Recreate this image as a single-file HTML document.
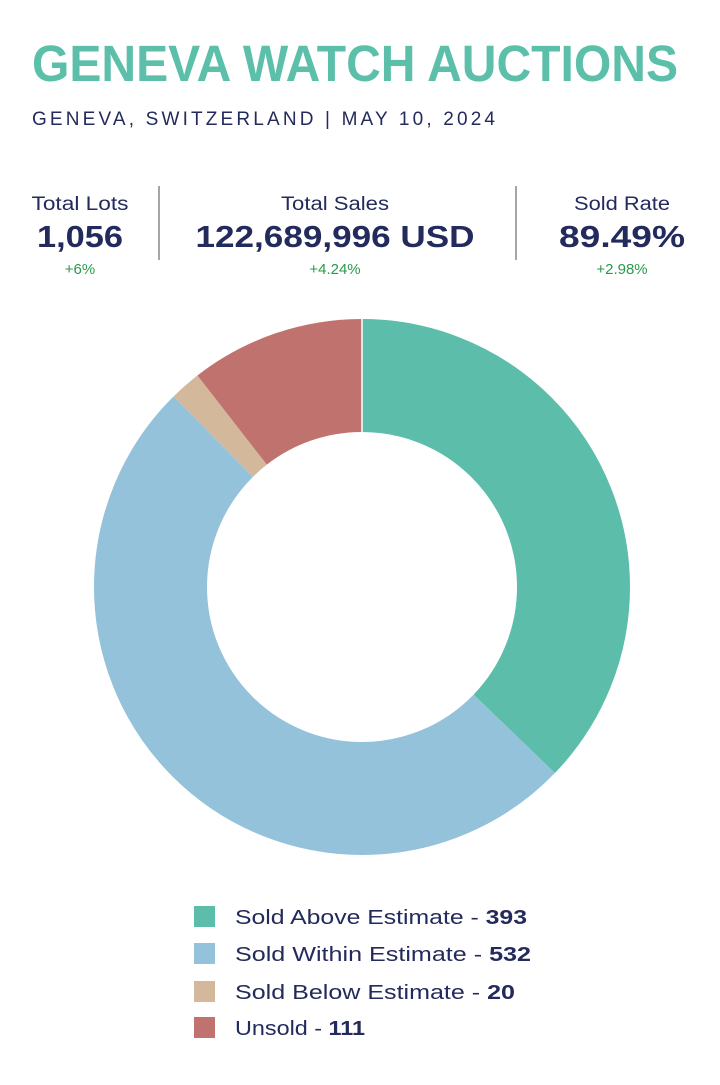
<!DOCTYPE html>
<html><head><meta charset="utf-8"><style>
html,body{margin:0;padding:0;background:#fff;}
svg{display:block;}
text{font-family:"Liberation Sans",sans-serif;}
</style></head><body>
<svg width="720" height="1085" viewBox="0 0 720 1085" xmlns="http://www.w3.org/2000/svg">
<rect width="720" height="1085" fill="#fff"/>
<text x="32" y="81" font-size="51" font-weight="bold" fill="#5bbfaa" textLength="646" lengthAdjust="spacingAndGlyphs">GENEVA WATCH AUCTIONS</text>
<text x="32" y="125" font-size="19" fill="#232a5c" textLength="463" lengthAdjust="spacing">GENEVA, SWITZERLAND  |  MAY 10, 2024</text>

<g fill="#232a5c" text-anchor="middle">
<text x="80" y="210" font-size="19" textLength="97" lengthAdjust="spacingAndGlyphs">Total Lots</text>
<text x="80" y="247" font-size="31" font-weight="bold" textLength="86" lengthAdjust="spacingAndGlyphs">1,056</text>
<text x="335" y="210" font-size="19" textLength="108" lengthAdjust="spacingAndGlyphs">Total Sales</text>
<text x="335" y="247" font-size="31" font-weight="bold" textLength="279" lengthAdjust="spacingAndGlyphs">122,689,996 USD</text>
<text x="622" y="210" font-size="19" textLength="96" lengthAdjust="spacingAndGlyphs">Sold Rate</text>
<text x="622" y="247" font-size="31" font-weight="bold" textLength="126" lengthAdjust="spacingAndGlyphs">89.49%</text>
</g>
<g fill="#2a9a4a" text-anchor="middle" font-size="15">
<text x="80" y="274">+6%</text>
<text x="335" y="274">+4.24%</text>
<text x="622" y="274">+2.98%</text>
</g>
<line x1="159" y1="186" x2="159" y2="260" stroke="#888" stroke-width="1.5"/>
<line x1="516" y1="186" x2="516" y2="260" stroke="#888" stroke-width="1.5"/>

<g transform="rotate(-90 362 587)" fill="none" stroke-width="113">
<circle cx="362" cy="587" r="211.5" pathLength="1056" stroke="#5bbdaa" stroke-dasharray="393 1056" stroke-dashoffset="0"/>
<circle cx="362" cy="587" r="211.5" pathLength="1056" stroke="#93c2da" stroke-dasharray="532 1056" stroke-dashoffset="-393"/>
<circle cx="362" cy="587" r="211.5" pathLength="1056" stroke="#d4b89c" stroke-dasharray="20 1056" stroke-dashoffset="-925"/>
<circle cx="362" cy="587" r="211.5" pathLength="1056" stroke="#c0736e" stroke-dasharray="111 1056" stroke-dashoffset="-945"/>
</g>
<line x1="362" y1="319" x2="362" y2="432" stroke="#fff" stroke-width="1.5"/>

<rect x="194" y="906" width="21" height="21" fill="#5bbdaa"/>
<rect x="194" y="943" width="21" height="21" fill="#93c2da"/>
<rect x="194" y="981" width="21" height="21" fill="#d4b89c"/>
<rect x="194" y="1017" width="21" height="21" fill="#c0736e"/>
<g fill="#232a5c" font-size="20">
<text x="235" y="924" textLength="292" lengthAdjust="spacingAndGlyphs">Sold Above Estimate - <tspan font-weight="bold">393</tspan></text>
<text x="235" y="961" textLength="296" lengthAdjust="spacingAndGlyphs">Sold Within Estimate - <tspan font-weight="bold">532</tspan></text>
<text x="235" y="999" textLength="280" lengthAdjust="spacingAndGlyphs">Sold Below Estimate - <tspan font-weight="bold">20</tspan></text>
<text x="235" y="1035" textLength="130" lengthAdjust="spacingAndGlyphs">Unsold - <tspan font-weight="bold">111</tspan></text>
</g>
</svg>
</body></html>
